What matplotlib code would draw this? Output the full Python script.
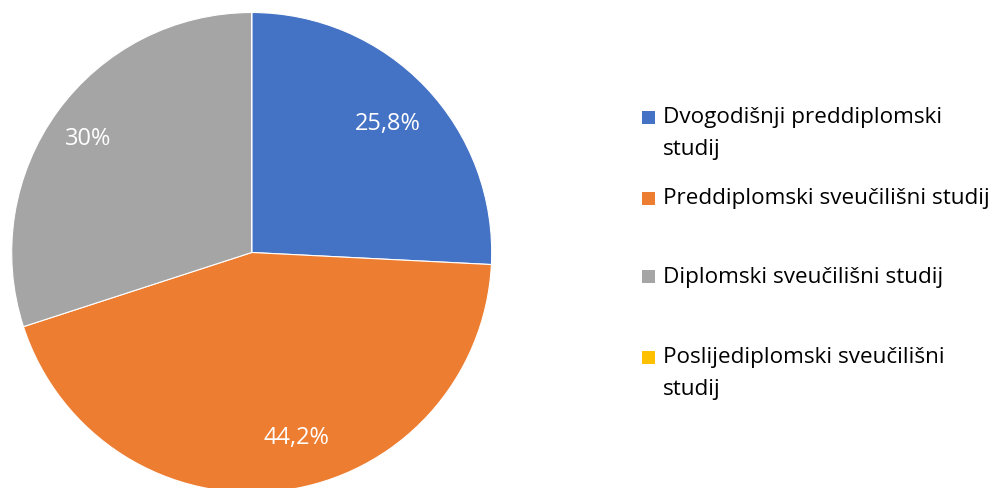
import matplotlib.pyplot as plt
import matplotlib.patches as mpatches
import numpy as np

# Data
labels = ['Dvogodišnji preddiplomski\nstudij', 'Preddiplomski sveučilišni studij',
          'Diplomski sveučilišni studij', 'Poslijediplomski sveučilišni\nstudij']
values = [25.8, 44.2, 30.0, 0.0]
value_labels = ['25,8%', '44,2%', '30%', '']
colors = ['#4472C4', '#ED7D31', '#A5A5A5', '#FFC000']

plt.rcParams['font.family'] = ['Open Sans', 'DejaVu Sans']

W, H = 1003, 489
fig = plt.figure(figsize=(W / 100, H / 100), dpi=100)

# pie axes: center (251.7, 253.5) px from top, radius 240 px
cx, cy, r = 251.7, 253.5, 240
ax = fig.add_axes([(cx - r) / W, (H - cy - r) / H, 2 * r / W, 2 * r / H])
wedges, _ = ax.pie(values, colors=colors, startangle=90, counterclock=False, radius=1,
                   wedgeprops={'edgecolor': 'white', 'linewidth': 0.8})
ax.set_xlim(-1, 1)
ax.set_ylim(-1, 1)
ax.axis('off')

# data labels (radius factor and angle tweak per slice)
label_r = [0.78, 0.79, 0.83, 0.8]
label_shift = [0, 6, 1, 0]
for w, txt, lr, sh in zip(wedges, value_labels, label_r, label_shift):
    if not txt:
        continue
    mid = np.deg2rad((w.theta1 + w.theta2) / 2 + sh)
    ax.text(lr * np.cos(mid), lr * np.sin(mid), txt, color='white', fontsize=17,
            ha='center', va='center')

# legend drawn by hand
first_line_y = [118, 199, 277, 358]
line_step = 32
for lab, col, y0 in zip(labels, colors, first_line_y):
    fig.patches.append(mpatches.Rectangle((642 / W, 1 - (y0 + 6.5) / H), 13 / W, 13 / H,
                                          transform=fig.transFigure, facecolor=col,
                                          edgecolor='none'))
    for i, line in enumerate(lab.split('\n')):
        fig.text(663 / W, 1 - (y0 + i * line_step) / H, line, fontsize=16.2,
                 ha='left', va='center', color='#000000')

fig.savefig('out.png', dpi=100)
